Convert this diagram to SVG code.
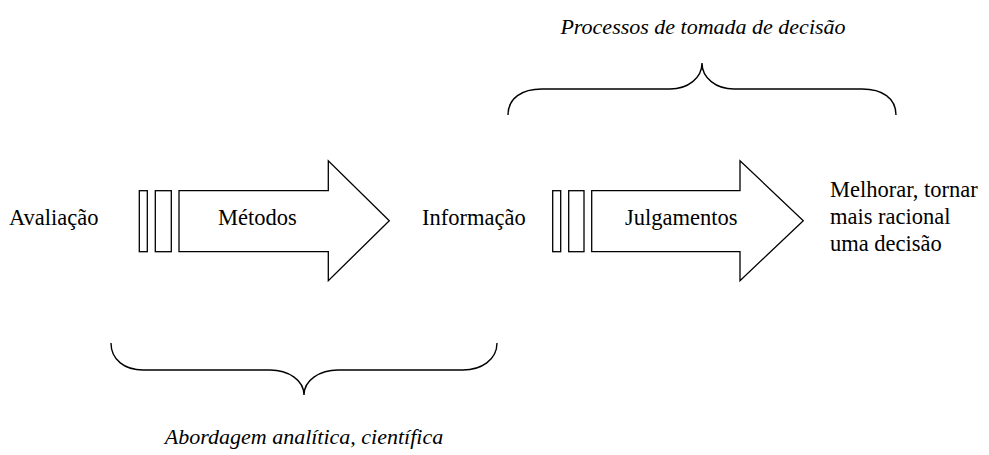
<svg xmlns="http://www.w3.org/2000/svg" width="989" height="455" viewBox="0 0 989 455">
<style>
.shape{fill:#fff;stroke:#000;stroke-width:1.3}
.brace{fill:none;stroke:#000;stroke-width:1.4}
text{font-family:"Liberation Serif","Times New Roman",serif;font-size:22.5px;fill:#000}
.it{font-style:italic;font-size:22px}
</style>
<rect width="989" height="455" fill="#fff"/>
<g id="arrow-metodos">
<rect class="shape" x="139.3" y="190.7" width="8" height="61"/>
<rect class="shape" x="155.3" y="190.7" width="16" height="61"/>
<polygon class="shape" points="179,190.7 328.3,190.7 328.3,160.7 389.3,220.7 328.3,280.7 328.3,251.7 179,251.7"/>
<text x="218" y="225">Métodos</text>
</g>
<g id="arrow-julgamentos">
<rect class="shape" x="552.7" y="190.7" width="8" height="61"/>
<rect class="shape" x="568.7" y="190.7" width="15.3" height="61"/>
<polygon class="shape" points="591.7,190.7 740,190.7 740,160.7 803.3,220.7 740,280.7 740,251.7 591.7,251.7"/>
<text x="625" y="225">Julgamentos</text>
</g>
<g id="avaliacao"><text x="9" y="225">Avaliação</text></g>
<g id="informacao"><text x="422" y="225">Informação</text></g>
<g id="melhorar">
<text x="830" y="197">Melhorar, tornar</text>
<text x="830" y="224">mais racional</text>
<text x="830" y="251">uma decisão</text>
</g>
<g id="brace-top">
<path class="brace" d="M508,115 C508,98 522,89 542,89 L670,89 C688,89 702,78 702,63 C702,78 716,89 734,89 L862,89 C882,89 896,98 896,115"/>
<text class="it" x="703" y="34" text-anchor="middle">Processos de tomada de decisão</text>
</g>
<g id="brace-bottom">
<path class="brace" d="M111,343 C111,360 125,370 143,370 L270,370 C288,370 304,380 304,395 C304,380 320,370 338,370 L463,370 C481,370 497,360 497,343"/>
<text class="it" x="304" y="444" text-anchor="middle">Abordagem analítica, científica</text>
</g>
<g id="connectors"></g>
</svg>
